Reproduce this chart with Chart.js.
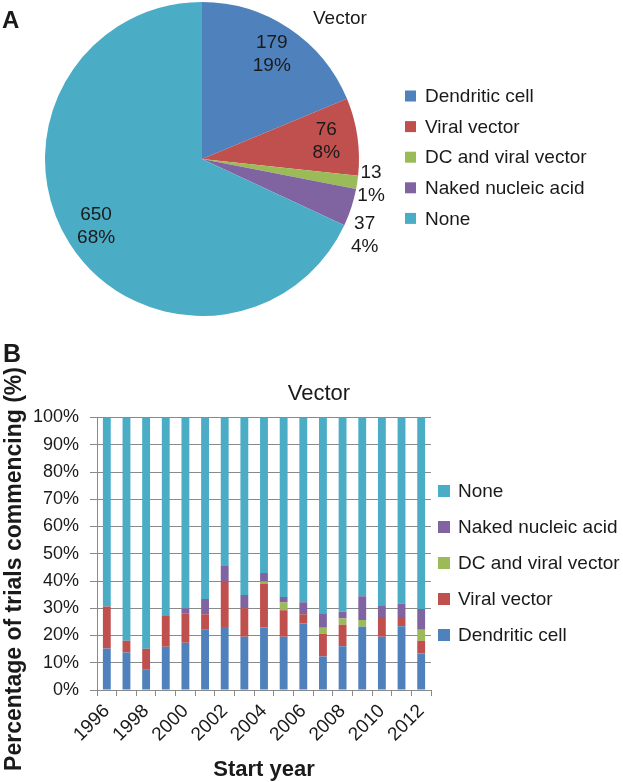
<!DOCTYPE html>
<html><head><meta charset="utf-8">
<script src="https://cdn.jsdelivr.net/npm/chart.js@4/dist/chart.umd.min.js"></script>
<style>
html,body{margin:0;padding:0;background:#fff;}
#wrap{position:relative;width:623px;height:782px;overflow:hidden;background:#fff;}
canvas{position:absolute;left:0;}
#pie{top:0;}
#bar{top:330px;}
</style></head><body>
<div id="wrap"><canvas id="pie" width="623" height="330"></canvas><canvas id="bar" width="623" height="452"></canvas></div>
<script>
const FONT = "'Liberation Sans', Arial, sans-serif";
const categories = ['Dendritic cell', 'Viral vector', 'DC and viral vector', 'Naked nucleic acid', 'None'];
const colors = ['#4F81BD', '#C0504D', '#9BBB59', '#8064A2', '#4BACC6'];
const pieCounts = [179, 76, 13, 37, 650];
const years = ['1996','1997','1998','1999','2000','2001','2002','2003','2004','2005','2006','2007','2008','2009','2010','2011','2012'];
const dendriticCell    = [15.2, 13.8, 7.4, 15.9, 17.3, 22.1, 23.1, 19.5, 22.9, 19.5, 24.4, 12.3, 16.1, 23.2, 19.5, 23.4, 13.4];
const viralVector      = [15.4, 4.3, 7.7, 11.3, 10.9, 5.7, 16.9, 10.5, 16.2, 9.8, 3.4, 8.3, 7.8, 0, 7.3, 3.4, 4.7];
const dcAndViral       = [0, 0, 0, 0, 0, 0, 0, 0, 0.7, 2.8, 0, 2.2, 2.3, 2.5, 0, 0, 4.0];
const nakedNucleicAcid = [0, 0, 0, 0, 1.8, 5.6, 5.5, 4.9, 3.1, 2.0, 4.4, 5.4, 2.5, 8.7, 4.3, 4.9, 7.6];
const none             = [69.4, 81.9, 84.9, 72.8, 70.0, 66.6, 54.5, 65.1, 57.1, 65.9, 67.8, 71.8, 71.3, 65.6, 68.9, 68.3, 70.3];
const yTicks = [0, 10, 20, 30, 40, 50, 60, 70, 80, 90, 100];
const seriesValues = [dendriticCell, viralVector, dcAndViral, nakedNucleicAcid, none];

const TXT = '#1a1a1a';
const GRID = '#8a8a8a';

const pieDecor = {
  id: 'pieDecor',
  afterDraw(chart) {
    const ctx = chart.ctx;
    ctx.save();
    ctx.fillStyle = TXT;
    ctx.font = 'bold 24px ' + FONT;
    ctx.textAlign = 'left'; ctx.textBaseline = 'alphabetic';
    ctx.fillText('A', 2, 28);
    ctx.font = '19px ' + FONT;
    ctx.textBaseline = 'middle';
    ctx.fillText('Vector', 313, 19);
    const meta = chart.getDatasetMeta(0);
    const data = chart.data.datasets[0].data;
    const total = data.reduce((a, b) => a + b, 0);
    let prevOut = null;
    ctx.textAlign = 'center';
    meta.data.forEach((arc, i) => {
      const p = arc.getProps(['x', 'y', 'startAngle', 'endAngle', 'outerRadius'], true);
      const mid = (p.startAngle + p.endAngle) / 2;
      const frac = data[i] / total;
      let cx, cy;
      if (frac > 0.05) {
        const r = p.outerRadius * 0.8;
        cx = p.x + Math.cos(mid) * r; cy = p.y + Math.sin(mid) * r;
      } else {
        const r = p.outerRadius + 14;
        cx = p.x + Math.cos(mid) * r; cy = p.y + Math.sin(mid) * r;
        if (prevOut !== null && cy < prevOut + 51) cy = prevOut + 51;
        prevOut = cy;
      }
      ctx.fillText(String(data[i]), cx, cy - 11.5);
      ctx.fillText(Math.round(frac * 100) + '%', cx, cy + 11.5);
    });
    ctx.textAlign = 'left';
    chart.data.labels.forEach((lab, i) => {
      const y = 96 + i * 30.6;
      ctx.fillStyle = chart.data.datasets[0].backgroundColor[i];
      ctx.fillRect(405, y - 5.5, 11, 11);
      ctx.fillStyle = TXT;
      ctx.fillText(lab, 425, y + 1);
    });
    ctx.restore();
  }
};

new Chart(document.getElementById('pie'), {
  type: 'pie',
  data: {
    labels: categories,
    datasets: [{ data: pieCounts, backgroundColor: colors, borderWidth: 0, hoverOffset: 0, offset: 0 }]
  },
  options: {
    responsive: false, animation: false, devicePixelRatio: 1,
    layout: { padding: { left: 45, top: 2, right: 623 - 45 - 314, bottom: 330 - 2 - 314 } },
    plugins: { legend: { display: false }, tooltip: { enabled: false }, title: { display: false } }
  },
  plugins: [pieDecor]
});

const barDecor = {
  id: 'barDecor',
  afterDraw(chart) {
    const ctx = chart.ctx;
    ctx.save();
    ctx.fillStyle = TXT;
    ctx.font = 'bold 25px ' + FONT;
    ctx.textAlign = 'left'; ctx.textBaseline = 'alphabetic';
    ctx.fillText('B', 3, 32);
    ctx.textBaseline = 'middle';
    ctx.textAlign = 'center';
    ctx.font = '22px ' + FONT;
    ctx.fillText('Vector', (chart.chartArea.left + chart.chartArea.right) / 2 + 55, 64);
    ctx.font = 'bold 22px ' + FONT;
    ctx.fillText('Start year', (chart.chartArea.left + chart.chartArea.right) / 2, 440);
    ctx.save();
    ctx.translate(15, 239);
    ctx.rotate(-Math.PI / 2);
    ctx.font = 'bold 23px ' + FONT;
    ctx.fillText('Percentage of trials commencing (%)', 0, 0);
    ctx.restore();
    ctx.textAlign = 'left';
    ctx.font = '19px ' + FONT;
    const ds = chart.data.datasets;
    for (let k = 0; k < ds.length; k++) {
      const d = ds[ds.length - 1 - k];
      const y = 161 + k * 36;
      ctx.fillStyle = d.backgroundColor;
      ctx.fillRect(438, y - 6, 12, 12);
      ctx.fillStyle = TXT;
      ctx.fillText(d.label, 458, y + 1);
    }
    ctx.restore();
  }
};

new Chart(document.getElementById('bar'), {
  type: 'bar',
  data: {
    labels: years,
    datasets: categories.map((c, i) => ({
      label: c, data: seriesValues[i], backgroundColor: colors[i], borderWidth: 0,
      barPercentage: 0.4, categoryPercentage: 1.0
    }))
  },
  options: {
    responsive: false, animation: false, devicePixelRatio: 1,
    layout: { padding: { left: 0, top: 87.5, right: 192, bottom: 0 } },
    plugins: { legend: { display: false }, tooltip: { enabled: false }, title: { display: false } },
    scales: {
      x: {
        stacked: true,
        afterFit(s) { s.height = 92; },
        grid: { display: true, offset: true, drawOnChartArea: false, tickLength: 6, color: GRID },
        border: { display: true, color: GRID },
        ticks: {
          autoSkip: false, maxRotation: 45, minRotation: 45, padding: 4,
          color: TXT, font: { family: FONT, size: 19 },
          callback(v, i) { return i % 2 === 0 ? this.getLabelForValue(v) : ''; }
        }
      },
      y: {
        stacked: true, min: 0, max: 100,
        afterFit(s) { s.width = 97; },
        afterBuildTicks(s) { s.ticks = yTicks.map(v => ({ value: v })); },
        grid: { color: GRID, tickLength: 7 },
        border: { display: true, color: GRID },
        ticks: { color: TXT, padding: 11, font: { family: FONT, size: 18 }, callback: v => v + '%' }
      }
    }
  },
  plugins: [barDecor]
});
</script>
</body></html>
